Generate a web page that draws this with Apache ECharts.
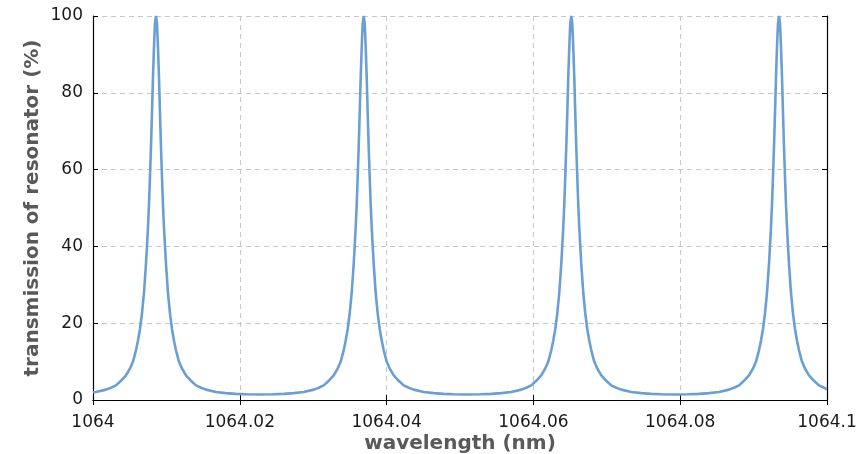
<!DOCTYPE html>
<html>
<head>
    <title>Resonator transmission</title>
    <script src="https://cdn.jsdelivr.net/npm/echarts@6/dist/echarts.min.js"></script>
    <style>
        html, body { margin: 0; padding: 0; background: #fff; }
        #chart { width: 863px; height: 454px; }
    </style>
</head>
<body>
<div id="chart"></div>

<script>
    // values, peak by peak
    var peak1Wavelength = [
        1064.00000, 1064.00041, 1064.00177, 1064.00245, 1064.00313, 1064.00381, 1064.00449, 1064.00504,
        1064.00545, 1064.00586, 1064.00613, 1064.00640, 1064.00667, 1064.00695, 1064.00722, 1064.00735,
        1064.00749, 1064.00763, 1064.00776, 1064.00790, 1064.00804, 1064.00817, 1064.00831, 1064.00844,
        1064.00858,
        1064.00872, 1064.00885, 1064.00899, 1064.00912, 1064.00926, 1064.00940, 1064.00953, 1064.00967,
        1064.00981, 1064.00994, 1064.01021, 1064.01049, 1064.01076, 1064.01103, 1064.01130, 1064.01171,
        1064.01212, 1064.01267, 1064.01335, 1064.01403, 1064.01471, 1064.01539, 1064.01675, 1064.01811,
        1064.01948, 1064.02084, 1064.02273
    ];
    var peak1Transmission = [
        2.0, 2.1, 2.7, 3.2, 3.8, 5.0, 6.4, 8.2,
        10, 13, 15.5, 18.5, 22.5, 28, 35.5, 40,
        45, 51, 58, 66, 75, 84, 92, 98,
        100,
        98, 92, 84, 75, 66, 58, 51, 45,
        40, 35.5, 28, 22.5, 18.5, 15.5, 13, 10,
        8.2, 6.4, 5.0, 3.8, 3.2, 2.7, 2.1, 1.8,
        1.6, 1.5, 1.45
    ];

    var peak2Wavelength = [
        1064.02462, 1064.02598, 1064.02735, 1064.02871, 1064.03007, 1064.03075, 1064.03143, 1064.03211,
        1064.03279, 1064.03334, 1064.03375, 1064.03416, 1064.03443, 1064.03470, 1064.03497, 1064.03525,
        1064.03552, 1064.03565, 1064.03579, 1064.03593, 1064.03606, 1064.03620, 1064.03634, 1064.03647,
        1064.03661, 1064.03674, 1064.03688,
        1064.03702, 1064.03715, 1064.03729, 1064.03742, 1064.03756, 1064.03770, 1064.03783, 1064.03797,
        1064.03811, 1064.03824, 1064.03851, 1064.03879, 1064.03906, 1064.03933, 1064.03960, 1064.04001,
        1064.04042, 1064.04097, 1064.04165, 1064.04233, 1064.04301, 1064.04369, 1064.04505, 1064.04641,
        1064.04778, 1064.04914, 1064.05102
    ];
    var peak2Transmission = [
        1.5, 1.6, 1.8, 2.1, 2.7, 3.2, 3.8, 5.0,
        6.4, 8.2, 10, 13, 15.5, 18.5, 22.5, 28,
        35.5, 40, 45, 51, 58, 66, 75, 84,
        92, 98, 100,
        98, 92, 84, 75, 66, 58, 51, 45,
        40, 35.5, 28, 22.5, 18.5, 15.5, 13, 10,
        8.2, 6.4, 5.0, 3.8, 3.2, 2.7, 2.1, 1.8,
        1.6, 1.5, 1.45
    ];

    var peak3Wavelength = [
        1064.05290, 1064.05426, 1064.05563, 1064.05699, 1064.05835, 1064.05903, 1064.05971, 1064.06039,
        1064.06107, 1064.06162, 1064.06203, 1064.06244, 1064.06271, 1064.06298, 1064.06325, 1064.06353,
        1064.06380, 1064.06393, 1064.06407, 1064.06421, 1064.06434, 1064.06448, 1064.06462, 1064.06475,
        1064.06489, 1064.06502, 1064.06516,
        1064.06530, 1064.06543, 1064.06557, 1064.06570, 1064.06584, 1064.06598, 1064.06611, 1064.06625,
        1064.06639, 1064.06652, 1064.06679, 1064.06707, 1064.06734, 1064.06761, 1064.06788, 1064.06829,
        1064.06870, 1064.06925, 1064.06993, 1064.07061, 1064.07129, 1064.07197, 1064.07333, 1064.07469,
        1064.07606, 1064.07742, 1064.07931
    ];
    var peak3Transmission = [
        1.5, 1.6, 1.8, 2.1, 2.7, 3.2, 3.8, 5.0,
        6.4, 8.2, 10, 13, 15.5, 18.5, 22.5, 28,
        35.5, 40, 45, 51, 58, 66, 75, 84,
        92, 98, 100,
        98, 92, 84, 75, 66, 58, 51, 45,
        40, 35.5, 28, 22.5, 18.5, 15.5, 13, 10,
        8.2, 6.4, 5.0, 3.8, 3.2, 2.7, 2.1, 1.8,
        1.6, 1.5, 1.45
    ];

    var peak4Wavelength = [
        1064.08120, 1064.08256, 1064.08393, 1064.08529, 1064.08665, 1064.08733, 1064.08801, 1064.08869,
        1064.08937, 1064.08992, 1064.09033, 1064.09074, 1064.09101, 1064.09128, 1064.09155, 1064.09183,
        1064.09210, 1064.09223, 1064.09237, 1064.09251, 1064.09264, 1064.09278, 1064.09292, 1064.09305,
        1064.09319, 1064.09332, 1064.09346,
        1064.09360, 1064.09373, 1064.09387, 1064.09400, 1064.09414, 1064.09428, 1064.09441, 1064.09455,
        1064.09469, 1064.09482, 1064.09509, 1064.09537, 1064.09564, 1064.09591, 1064.09618, 1064.09659,
        1064.09700, 1064.09755, 1064.09823, 1064.09891, 1064.09959, 1064.10000
    ];
    var peak4Transmission = [
        1.5, 1.6, 1.8, 2.1, 2.7, 3.2, 3.8, 5.0,
        6.4, 8.2, 10, 13, 15.5, 18.5, 22.5, 28,
        35.5, 40, 45, 51, 58, 66, 75, 84,
        92, 98, 100,
        98, 92, 84, 75, 66, 58, 51, 45,
        40, 35.5, 28, 22.5, 18.5, 15.5, 13, 10,
        8.2, 6.4, 5.0, 3.8, 3.2, 2.8
    ];

    var xTicks = [1064, 1064.02, 1064.04, 1064.06, 1064.08, 1064.1];
    var yTicks = [0, 20, 40, 60, 80, 100];

    var wavelength = peak1Wavelength.concat(peak2Wavelength, peak3Wavelength, peak4Wavelength);
    var transmission = peak1Transmission.concat(peak2Transmission, peak3Transmission, peak4Transmission);
    var points = wavelength.map(function (w, i) { return [w, transmission[i]]; });

    var chart = echarts.init(document.getElementById('chart'), null, { renderer: 'canvas' });

    var labelFont = { color: '#1a1a1a', fontFamily: 'DejaVu Sans', fontSize: 17 };
    var titleFont = { color: '#595959', fontFamily: 'DejaVu Sans', fontSize: 20, fontWeight: 'bold' };
    var gridDash = { show: true, lineStyle: { color: '#c8c8c8', type: [5, 4], width: 1 } };
    var frame = { show: true, lineStyle: { color: '#000', width: 1.2 } };
    var inTicks = { show: true, inside: true, length: 5, lineStyle: { color: '#000' } };

    var xBase = {
        type: 'value',
        min: xTicks[0],
        max: xTicks[xTicks.length - 1],
        interval: 0.02
    };
    var yBase = {
        type: 'value',
        min: yTicks[0],
        max: yTicks[yTicks.length - 1],
        interval: 20
    };

    chart.setOption({
        animation: false,
        grid: { left: 93, right: 36, top: 16, bottom: 54, containLabel: false, outerBoundsMode: 'none' },
        xAxis: [
            Object.assign({}, xBase, {
                position: 'bottom',
                name: 'wavelength (nm)',
                nameLocation: 'middle',
                nameGap: 23,
                nameMoveOverlap: false,
                nameTextStyle: titleFont,
                axisLine: frame,
                axisTick: inTicks,
                splitLine: gridDash,
                axisLabel: Object.assign({}, labelFont, {
                    margin: 6,
                    formatter: function (v) { return String(+v.toFixed(2)); }
                })
            }),
            Object.assign({}, xBase, {
                position: 'top',
                axisLine: frame,
                axisTick: inTicks,
                axisLabel: { show: false },
                splitLine: { show: false }
            })
        ],
        yAxis: [
            Object.assign({}, yBase, {
                position: 'left',
                name: 'transmission of resonator (%)',
                nameLocation: 'middle',
                nameGap: 39,
                nameMoveOverlap: false,
                nameTextStyle: titleFont,
                axisLine: frame,
                axisTick: inTicks,
                splitLine: gridDash,
                axisLabel: Object.assign({}, labelFont, { margin: 10 })
            }),
            Object.assign({}, yBase, {
                position: 'right',
                axisLine: frame,
                axisTick: inTicks,
                axisLabel: { show: false },
                splitLine: { show: false }
            })
        ],
        series: [{
            type: 'line',
            data: points,
            showSymbol: false,
            symbol: 'none',
            clip: true,
            lineStyle: { color: '#6a9fd4', width: 2.6 }
        }]
    });
</script>
</body>
</html>
